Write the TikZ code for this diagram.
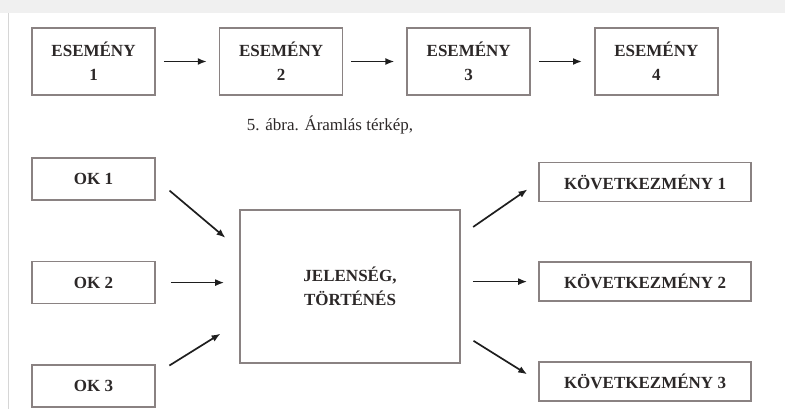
\documentclass[tikz,border=0pt]{standalone}
\usepackage{fontspec}
\setmainfont{Liberation Serif}
\usetikzlibrary{arrows.meta,calc,positioning}
\definecolor{evgray}{HTML}{8A8282}
\definecolor{evtext}{HTML}{2C2828}
\definecolor{evarrow}{HTML}{1E1E1E}

\begin{document}
\begin{tikzpicture}[
    x=1pt,y=-1pt,
    node distance=63pt,
    box/.style={draw=evgray,line width=1.6pt,fill=white,align=center,
      text=evtext,font=\fontsize{17}{24}\selectfont\bfseries,inner sep=2pt},
    evbox/.style={box,minimum width=123pt,minimum height=67pt},
    okbox/.style={box,minimum width=123pt,minimum height=42pt},
    kovbox/.style={box,minimum width=212pt,minimum height=39pt},
    flow/.style={-{Latex[length=9pt,width=7pt]},line width=1.7pt,draw=evarrow}
  ]
    % page edge
    \fill[black!6] (0,0) rectangle (785,13);
    \draw[black!16,line width=1pt] (8,13) -- (8,409);
    \useasboundingbox (0,0) rectangle (785,409);

    % sequence of events
    \node[evbox] (ev1) at (93.5,61.5) {ESEMÉNY\\1};
    \node[evbox,right=of ev1] (ev2) {ESEMÉNY\\2};
    \node[evbox,right=of ev2] (ev3) {ESEMÉNY\\3};
    \node[evbox,right=of ev3] (ev4) {ESEMÉNY\\4};
    \foreach \a/\b in {ev1/ev2,ev2/ev3,ev3/ev4}
      \draw[flow,shorten <=8pt,shorten >=12pt] (\a) -- (\b);

    \node[font=\fontsize{17}{20}\selectfont,text=evtext] (cap) at (330,125)
      {5. ábra. Áramlás térkép,};

    % causes and consequences
    \node[box,minimum width=220pt,minimum height=153pt] (mid) at (350,286.5)
      {JELENSÉG,\\TÖRTÉNÉS};
    \node[okbox] (ok1) at (93.5,179) {OK 1};
    \node[okbox,below=60pt of ok1] (ok2) {OK 2};
    \node[okbox,below=60pt of ok2] (ok3) {OK 3};
    \node[kovbox] (kov1) at (645,182) {KÖVETKEZMÉNY 1};
    \node[kovbox,below=59pt of kov1] (kov2) {KÖVETKEZMÉNY 2};
    \node[kovbox,below=59pt of kov2] (kov3) {KÖVETKEZMÉNY 3};

    \draw[flow,shorten <=18pt,shorten >=18pt]
      (ok1.east) -- ($(mid.north west)!.26!(mid.south west)$);
    \draw[flow,shorten <=15pt,shorten >=15pt]
      (ok2.east) -- (ok2.east -| mid.west);
    \draw[flow,shorten <=16pt,shorten >=22pt]
      ($(ok3.north east)!.22!(ok3.south east)$) -- ($(mid.north west)!.73!(mid.south west)$);
    \draw[flow,shorten <=15pt,shorten >=13pt]
      ($(mid.north east)!.17!(mid.south east)$) -- (kov1.west);
    \draw[flow,shorten <=12pt,shorten >=11pt]
      (kov2.west -| mid.east) -- (kov2.west);
    \draw[flow,shorten <=15pt,shorten >=13pt]
      ($(mid.north east)!.8!(mid.south east)$) -- (kov3.west);
\end{tikzpicture}
\end{document}
